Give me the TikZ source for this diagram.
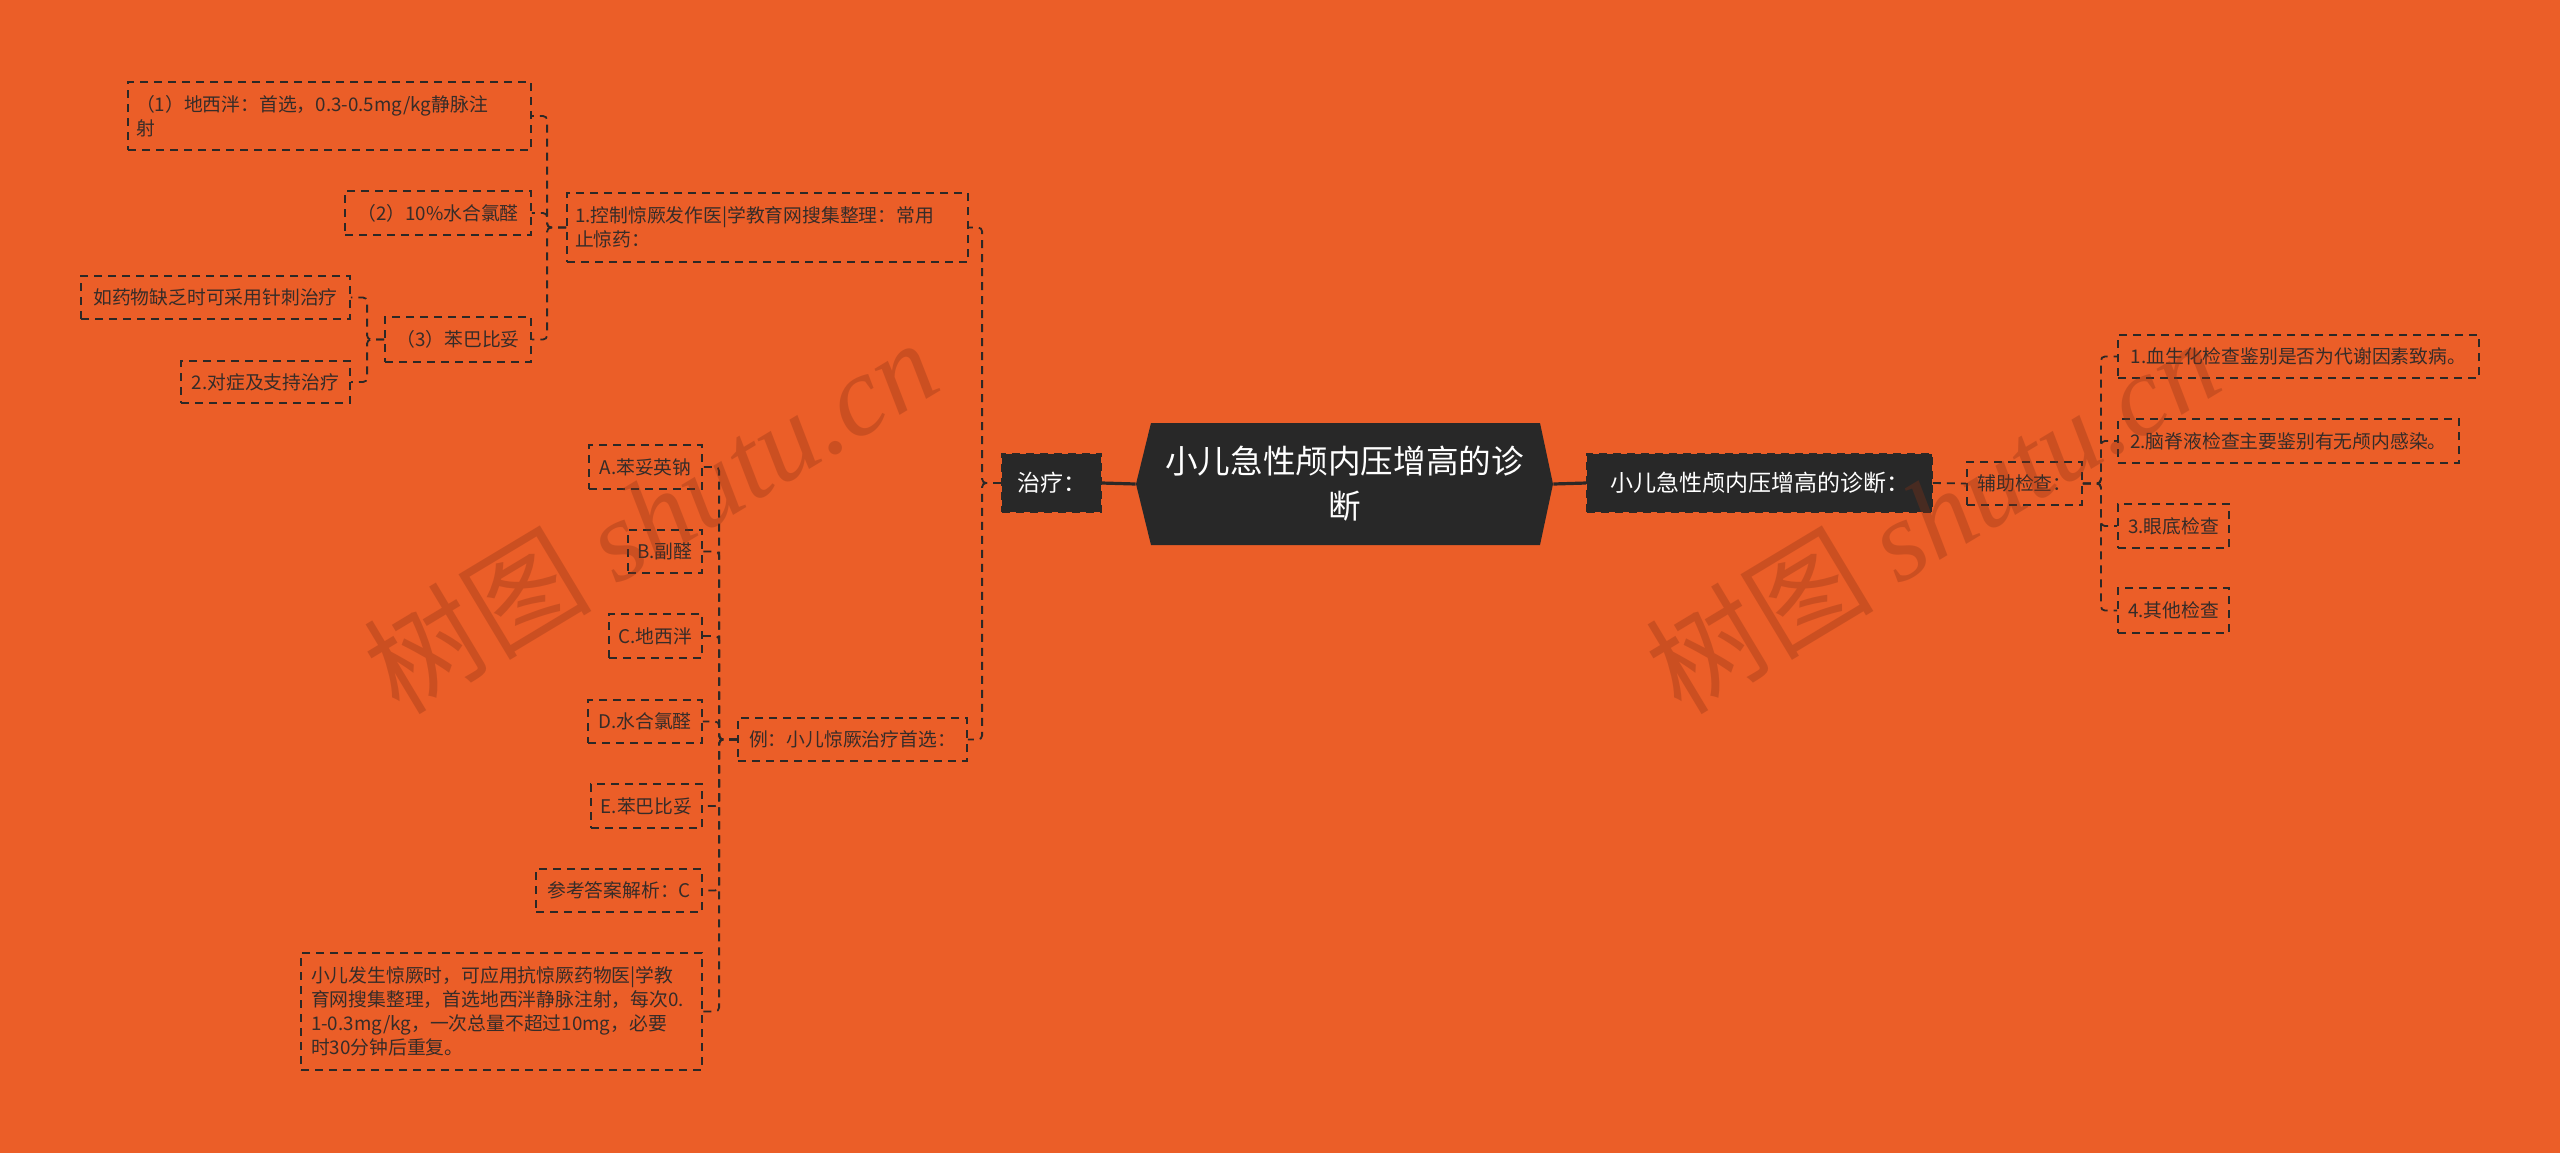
\documentclass[tikz,border=0pt]{standalone}
\usepackage{fontspec}
\setmainfont{Noto Sans CJK SC}
\newfontfamily\wmfont{Liberation Serif}
\definecolor{bg}{HTML}{EB5E28}
\definecolor{dk}{HTML}{282828}
\definecolor{ln}{HTML}{2C2826}
\definecolor{tx}{HTML}{362C28}
\definecolor{wm}{HTML}{8C3214}
\begin{document}
\begin{tikzpicture}[x=0.5pt,y=-0.5pt,
  leaf/.style={draw=ln, line width=0.9pt, dash pattern=on 4pt off 3pt, text=tx,
    font=\fontsize{9.4}{12}\selectfont, inner sep=0pt, align=center},
  para/.style={draw=ln, line width=0.9pt, dash pattern=on 4pt off 3pt, text=tx,
    font=\fontsize{9.4}{12}\selectfont, inner ysep=0pt, inner xsep=4pt, align=left},
  darkn/.style={fill=dk, draw=ln, line width=0.9pt, dash pattern=on 4pt off 3pt, text=white,
    font=\fontsize{11.5}{14}\selectfont, inner sep=0pt, align=center},
  conn/.style={draw=ln, line width=0.9pt, dash pattern=on 4pt off 3pt, rounded corners=2pt},
  solidc/.style={draw=ln, line width=1.6pt},
  wmark/.style={text=wm, text opacity=0.33, font=\fontsize{57}{64}\selectfont, inner sep=0pt}
]
\fill[bg] (0,0) rectangle (2560,1153);
\useasboundingbox (0,0) rectangle (2560,1153);

% root shape
\fill[dk] (1151,423) -- (1540,423) -- (1553,484) -- (1540,545) -- (1151,545) -- (1136,484) -- cycle;
\node[minimum width=208.5pt, minimum height=61pt, inner sep=0pt, text=white, align=center,
  font=\fontsize{16.3}{22.5}\selectfont] (root) at (1344.5,484) {小儿急性颅内压增高的诊\\断};

% first level
\node[darkn, minimum width=49.5pt, minimum height=29pt] (treat) at (1051.5,483) {治疗：};
\node[darkn, minimum width=172.5pt, minimum height=29pt] (rmain) at (1759.5,483) {小儿急性颅内压增高的诊断：};

% right side
\node[leaf, minimum width=57.5pt, minimum height=21.5pt] (aux) at (2024.5,483.5) {辅助检查：};
\node[leaf, minimum width=180.5pt, minimum height=21.5pt] (r1) at (2298.5,356.5) {1.血生化检查鉴别是否为代谢因素致病。};
\node[leaf, minimum width=170.5pt, minimum height=22pt] (r2) at (2288.5,441) {2.脑脊液检查主要鉴别有无颅内感染。};
\node[leaf, minimum width=55.5pt, minimum height=22pt] (r3) at (2173.5,526) {3.眼底检查};
\node[leaf, minimum width=55.5pt, minimum height=22.5pt] (r4) at (2173.5,610.5) {4.其他检查};

% left upper
\node[para, text width=192.5pt, minimum height=34.5pt] (L1) at (767.5,227.5) {1.控制惊厥发作医|学教育网搜集整理：常用\\止惊药：};
\node[para, text width=193.5pt, minimum height=34pt] (L1a) at (329.5,116) {（1）地西泮：首选，0.3-0.5mg/kg静脉注\\射};
\node[leaf, minimum width=93pt, minimum height=22pt] (L1b) at (438,213) {（2）10\%水合氯醛};
\node[leaf, minimum width=73pt, minimum height=22.5pt] (L1c) at (458,339.5) {（3）苯巴比妥};
\node[leaf, minimum width=134.5pt, minimum height=21.5pt] (L1c1) at (215.5,297.5) {如药物缺乏时可采用针刺治疗};
\node[leaf, minimum width=84.5pt, minimum height=21pt] (L1c2) at (265.5,382) {2.对症及支持治疗};

% left lower
\node[leaf, minimum width=114.5pt, minimum height=21.5pt] (L2) at (852.5,739.5) {例：小儿惊厥治疗首选：};
\node[leaf, minimum width=56.5pt, minimum height=22pt] (A) at (645.5,467) {A.苯妥英钠};
\node[leaf, minimum width=37pt, minimum height=21.5pt] (B) at (665,551.5) {B.副醛};
\node[leaf, minimum width=46.5pt, minimum height=22pt] (C) at (655.5,636) {C.地西泮};
\node[leaf, minimum width=57pt, minimum height=21.5pt] (D) at (645,721.5) {D.水合氯醛};
\node[leaf, minimum width=55.5pt, minimum height=22pt] (E) at (646.5,806) {E.苯巴比妥};
\node[leaf, minimum width=83pt, minimum height=21.5pt] (F) at (619,890.5) {参考答案解析：C};
\node[para, inner xsep=5pt, text width=190.5pt, minimum height=58.5pt] (G) at (501.5,1011.5)
  {小儿发生惊厥时，可应用抗惊厥药物医|学教\\育网搜集整理，首选地西泮静脉注射，每次0.\\1-0.3mg/kg，一次总量不超过10mg，必要\\时30分钟后重复。};

% connectors
\draw[solidc] (treat.east) -- (root.west);
\draw[solidc] (root.east) -- (rmain.west);
\draw[conn] (rmain.east) -- (aux.west);
\foreach \c in {r1,r2,r3,r4} \draw[conn] (aux.east) -- ++(18,0) |- (\c.west);
\foreach \c in {L1,L2} \draw[conn] (treat.west) -- ++(-19,0) |- (\c.east);
\foreach \c in {L1a,L1b,L1c} \draw[conn] (L1.west) -- ++(-19,0) |- (\c.east);
\foreach \c in {L1c1,L1c2} \draw[conn] (L1c.west) -- ++(-17,0) |- (\c.east);
\foreach \c in {A,B,C,D,E,F,G} \draw[conn] (L2.west) -- ++(-18,0) |- (\c.east);

% watermarks
\node[wmark, rotate=31] (wm1) at (650,515) {树图 {\wmfont\itshape shutu.cn}};
\node[wmark, rotate=31] (wm2) at (1932,515) {树图 {\wmfont\itshape shutu.cn}};
\end{tikzpicture}
\end{document}
